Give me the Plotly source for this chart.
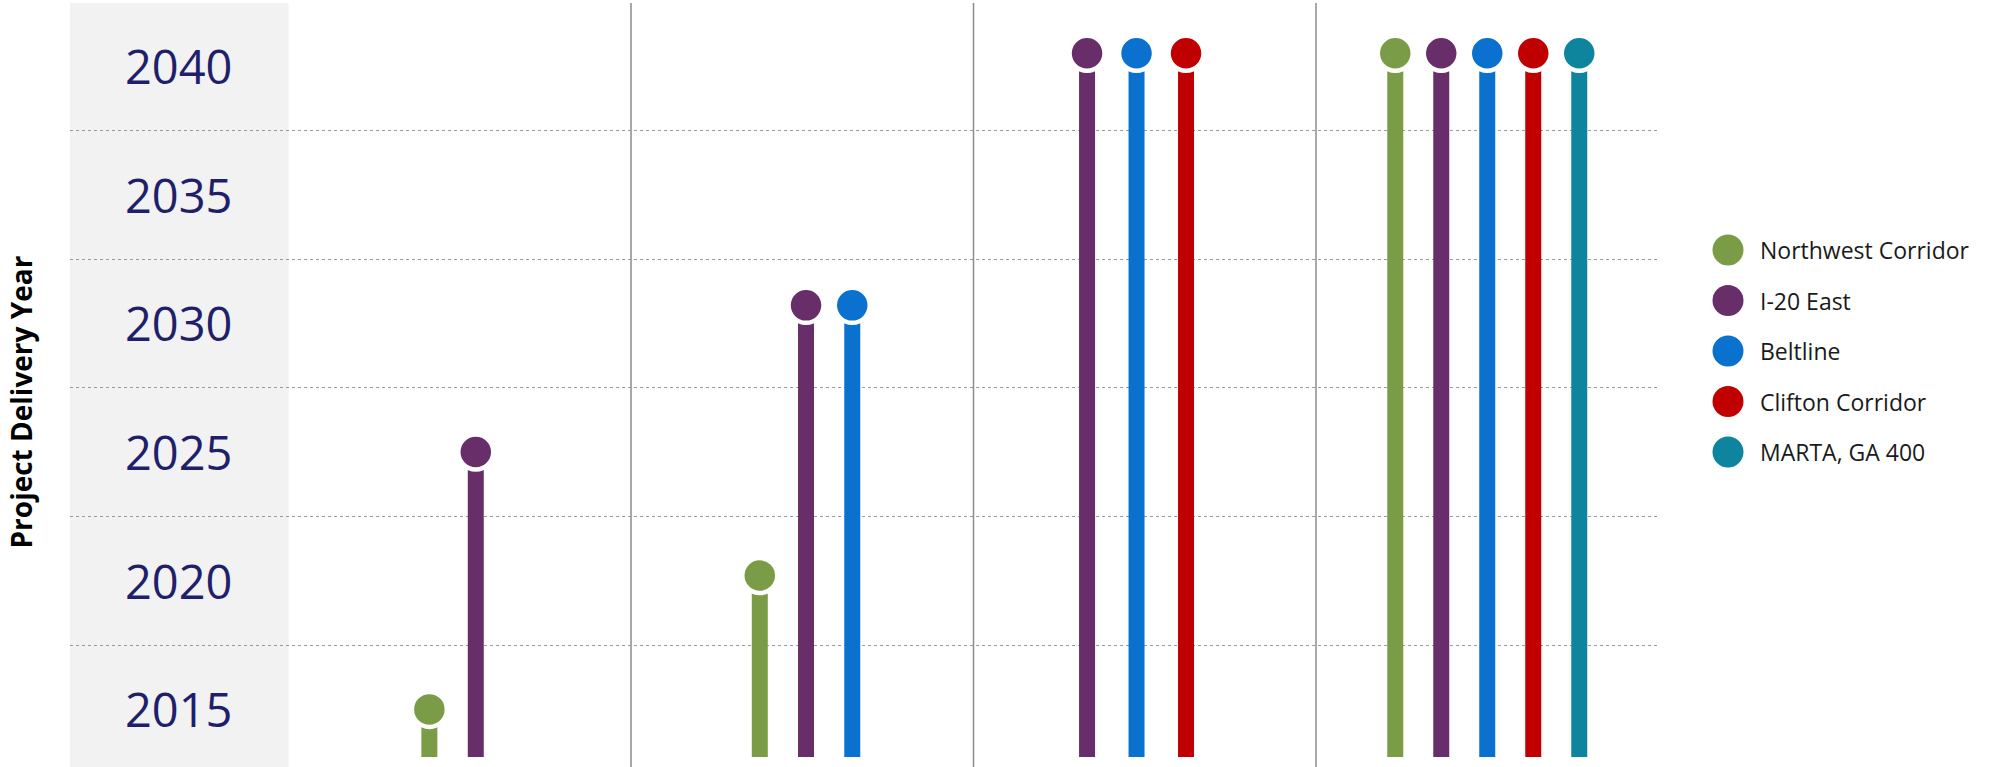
import plotly.graph_objects as go

# ---------------- data ----------------
GROUPS = ["Phase 1", "Phase 2", "Phase 3", "Phase 4"]
SERIES = ["Northwest Corridor", "I-20 East", "Beltline", "Clifton Corridor", "MARTA, GA 400"]
COLORS = ["#7A9C46", "#672E6A", "#0A71CE", "#C00000", "#0E849E"]

NORTHWEST_CORRIDOR = [2015.0, 2020.2, None, 2040.5]
I20_EAST = [2025.0, 2030.7, 2040.5, 2040.5]
BELTLINE = [None, 2030.7, 2040.5, 2040.5]
CLIFTON_CORRIDOR = [None, None, 2040.5, 2040.5]
MARTA_GA400 = [None, None, None, 2040.5]
VALUES = [NORTHWEST_CORRIDOR, I20_EAST, BELTLINE, CLIFTON_CORRIDOR, MARTA_GA400]

YEAR_LABELS = [2015, 2020, 2025, 2030, 2035, 2040]

# ---------------- styling / geometry ----------------
W, H = 1990, 767
ML, MT, MB = 70, 3, 10
PLOT_RIGHT_PX = 1658.5
LEG_LEFT_PX = 1700
GROUP_SHIFT = [-0.021, 0.011, -0.024, 0.0]      # small centring tweaks per group
GROUP_SLOT = [0.1355, 0.135, 0.1445, 0.1343]     # spacing between stems in a group
BAR_W = 0.0467
X_RANGE = [-1.138, 3.5]
Y_RANGE = [2013.15, 2042.45]
FONT = "Open Sans"
NAVY = "#1F1F6B"

paper_w = W - ML
main_dom = [0, (PLOT_RIGHT_PX - ML) / paper_w]
leg_dom = [(LEG_LEFT_PX - ML) / paper_w, 1.0]
plot_h = H - MT - MB


def x_to_paper(x):
    return main_dom[0] + (x - X_RANGE[0]) / (X_RANGE[1] - X_RANGE[0]) * (main_dom[1] - main_dom[0])


fig = go.Figure()

# bars (stems) then dots
positions = []
for s_idx, vals in enumerate(VALUES):
    xs, ys = [], []
    for g in range(len(GROUPS)):
        if vals[g] is None:
            continue
        present = [k for k in range(len(SERIES)) if VALUES[k][g] is not None]
        rank = present.index(s_idx)
        n = len(present)
        xs.append(g + GROUP_SHIFT[g] + (rank - (n - 1) / 2) * GROUP_SLOT[g])
        ys.append(vals[g])
    positions.append((xs, ys))
    fig.add_trace(go.Bar(x=xs, y=ys, width=BAR_W, marker=dict(color=COLORS[s_idx], line=dict(width=0)),
                         showlegend=False, hoverinfo="skip"))

for s_idx, (xs, ys) in enumerate(positions):
    fig.add_trace(go.Scatter(x=xs, y=ys, mode="markers", name=SERIES[s_idx], showlegend=False,
                             marker=dict(size=35, color=COLORS[s_idx], line=dict(color="white", width=4.5)),
                             cliponaxis=False))

# custom legend on its own axes (1 unit = 1 px horizontally, 1 unit = one row vertically)
LEG_ROW_PX = 50.5
LEG_FIRST_PX = 250
r0 = -(LEG_FIRST_PX - MT) / LEG_ROW_PX
r1 = r0 + plot_h / LEG_ROW_PX
idx = list(range(len(SERIES)))
fig.add_trace(go.Scatter(x=[28] * len(SERIES), y=idx, mode="markers", xaxis="x2", yaxis="y2",
                         marker=dict(size=31, color=COLORS, line=dict(width=0)),
                         showlegend=False, hoverinfo="skip"))
annotations = []
for i, name in enumerate(SERIES):
    annotations.append(dict(x=58, y=i, xref="x2", yref="y2", text=name, showarrow=False,
                            xanchor="left", yanchor="middle",
                            font=dict(family=FONT, size=23, color="#1A1A1A")))

# year labels centred in the grey band
band_center = (X_RANGE[0] + (-0.5)) / 2
for yr in YEAR_LABELS:
    annotations.append(dict(x=band_center, y=yr, xref="x", yref="y", text=str(yr), showarrow=False,
                            xanchor="center", yanchor="middle",
                            font=dict(family=FONT, size=47, color=NAVY)))

# y-axis title
annotations.append(dict(x=(20.5 - ML) / paper_w, y=(H - MB - 402) / plot_h, xref="paper", yref="paper",
                        text="Project Delivery Year", textangle=-90, showarrow=False,
                        xanchor="center", yanchor="middle",
                        font=dict(family=FONT, size=28, color="#000000", weight=700)))

# gridlines between year labels
mids = [(YEAR_LABELS[i] + YEAR_LABELS[i + 1]) / 2 for i in range(len(YEAR_LABELS) - 1)]

shapes = []
# grey band behind the year labels
shapes.append(dict(type="rect", xref="paper", yref="paper", x0=x_to_paper(X_RANGE[0]), x1=x_to_paper(-0.5),
                   y0=-MB / plot_h, y1=1.0, fillcolor="#F2F2F2", line=dict(width=0), layer="below"))
# group dividers
for g in range(len(GROUPS) - 1):
    xp = x_to_paper(g + 0.5)
    shapes.append(dict(type="line", xref="paper", yref="paper", x0=xp, x1=xp, y0=-MB / plot_h, y1=1.0,
                       line=dict(color="#8C8C8C", width=1.5), layer="below"))

fig.update_layout(
    width=W, height=H,
    margin=dict(l=ML, r=0, t=MT, b=MB),
    paper_bgcolor="white", plot_bgcolor="rgba(0,0,0,0)",
    barmode="overlay",
    showlegend=False,
    font=dict(family=FONT),
    xaxis=dict(domain=main_dom, range=X_RANGE, showgrid=False, zeroline=False, showticklabels=False,
               ticks="", showline=False, fixedrange=True),
    yaxis=dict(range=Y_RANGE, tickvals=mids, showticklabels=False, ticks="", showgrid=True,
               gridcolor="#9A9A9A", griddash="dot", gridwidth=1, zeroline=False, showline=False),
    xaxis2=dict(domain=leg_dom, range=[0, W - LEG_LEFT_PX], visible=False, anchor="y2"),
    yaxis2=dict(domain=[0, 1], range=[r1, r0], visible=False, anchor="x2"),
    annotations=annotations,
    shapes=shapes,
)

fig.write_html("out.html")
